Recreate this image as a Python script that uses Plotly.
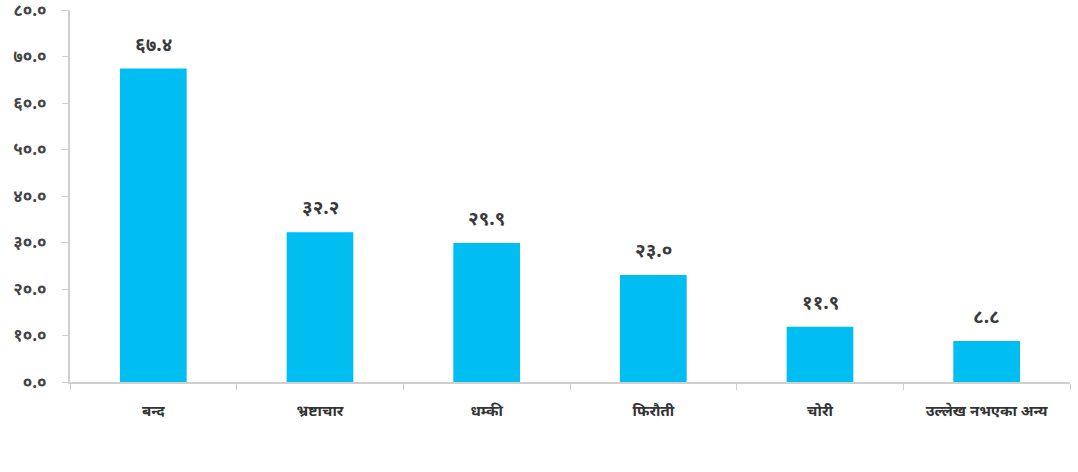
import plotly.graph_objects as go

categories = ["बन्द", "भ्रष्टाचार", "धम्की", "फिरौती", "चोरी", "उल्लेख नभएका अन्य"]
values = [67.4, 32.2, 29.9, 23.0, 11.9, 8.8]
value_labels = ["६७.४", "३२.२", "२९.९", "२३.०", "११.९", "८.८"]
y_ticks = [0, 10, 20, 30, 40, 50, 60, 70, 80]
y_tick_labels = ["०.०", "१०.०", "२०.०", "३०.०", "४०.०", "५०.०", "६०.०", "७०.०", "८०.०"]

FONT = "Noto Sans Devanagari, Noto Sans, Lohit Devanagari, sans-serif"

fig = go.Figure(
    go.Bar(
        x=categories,
        y=values,
        marker=dict(color="#00BDF2", line=dict(width=0)),
        width=0.4,
        hoverinfo="skip",
    )
)

for cat, v, lbl in zip(categories, values, value_labels):
    fig.add_annotation(
        x=cat, y=v, text=f"<b>{lbl}</b>", showarrow=False,
        yanchor="bottom", yshift=8,
        font=dict(family=FONT, size=19, color="#3a3a3a"),
    )

fig.update_layout(
    width=1078, height=472,
    margin=dict(l=70, r=8, t=10, b=90),
    paper_bgcolor="white", plot_bgcolor="white",
    showlegend=False,
    bargap=0.6,
    font=dict(family=FONT, color="#333333"),
)
fig.update_xaxes(
    showline=True, linecolor="#CFCFCF", linewidth=2,
    ticks="outside", tickson="boundaries", ticklen=6, tickcolor="#CFCFCF", tickwidth=1,
    tickvals=categories, ticktext=[f"<b>{c}</b>" for c in categories],
    tickfont=dict(size=15, color="#333333"),
    ticklabelstandoff=14,
    showgrid=False, automargin=False,
)
fig.update_yaxes(
    range=[0, 80], tickvals=y_ticks, ticktext=[f"<b>{t}</b>" for t in y_tick_labels],
    showline=True, linecolor="#CFCFCF", linewidth=2,
    ticks="outside", ticklen=6, tickcolor="#CFCFCF",
    tickfont=dict(size=17, color="#454545"),
    ticklabelstandoff=12,
    showgrid=False, zeroline=False, automargin=False,
)

fig.write_html("out.html")
